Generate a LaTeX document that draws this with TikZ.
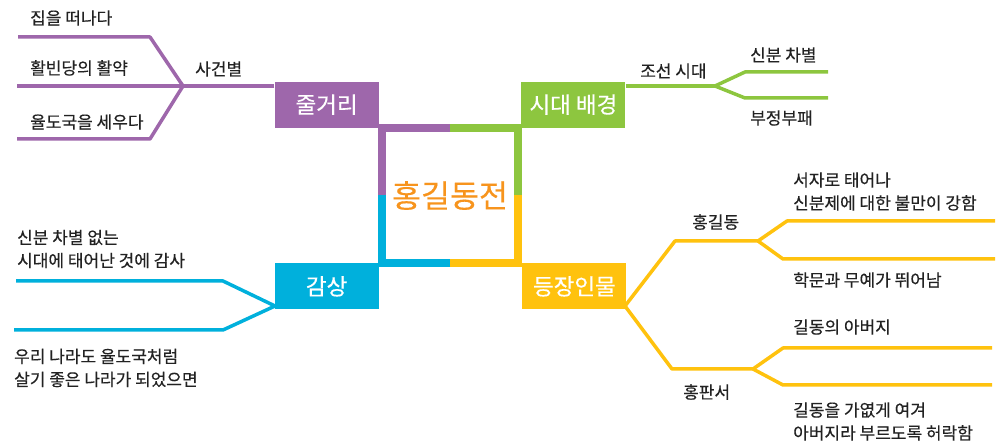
\documentclass[tikz,border=0pt]{standalone}
\usepackage{fontspec}
\setmainfont{Noto Sans CJK KR}[FakeBold=0.4]
\usetikzlibrary{calc}
\definecolor{plotPurple}{HTML}{9E67AB}
\definecolor{eraGreen}{HTML}{8DC63F}
\definecolor{feelBlue}{HTML}{00B0DC}
\definecolor{castYellow}{HTML}{FFC20E}
\definecolor{titleOrange}{HTML}{F7941D}
\definecolor{leafText}{HTML}{222222}

\begin{document}
\begin{tikzpicture}[x=1pt, y=-1pt,
  topic/.style={fill=#1, text=white, minimum width=104pt, minimum height=46pt, inner sep=0pt, font=\fontsize{22.5}{26}\selectfont},
  branch/.style={draw=#1, line width=3.5pt, line join=round},
  frame/.style={draw=#1, line width=8pt},
  leaf/.style={anchor=west, inner sep=0pt, align=left, text=leafText, font=\fontsize{17}{23}\selectfont}]
\useasboundingbox (0,0) rectangle (1004,443);
% title in the middle
\node[minimum width=136pt, minimum height=135pt, inner sep=0pt, text=titleOrange, font=\fontsize{31.5}{34}\selectfont] (title) at (450,195.5) {홍길동전};
\draw[frame=plotPurple] (title.west) |- (title.north);
\draw[frame=eraGreen] (title.north) -| (title.east);
\draw[frame=castYellow] (title.east) |- (title.south);
\draw[frame=feelBlue] (title.south) -| (title.west);
% four topics at the corners
\node[topic=plotPurple, anchor=south east, xshift=-3pt] (plot) at (title.north west) {줄거리};
\node[topic=eraGreen, anchor=south west, xshift=3pt] (era) at (title.north east) {시대 배경};
\node[topic=feelBlue, anchor=north east, xshift=-3pt] (feel) at (title.south west) {감상};
\node[topic=castYellow, anchor=north west, xshift=4pt] (cast) at (title.south east) {등장인물};

% 줄거리
\coordinate (plotJ) at (183,86);
\coordinate (plotA) at (18,37);
\coordinate (plotB) at (17,86);
\coordinate (plotC) at (17,139);
\draw[branch=plotPurple] (plot.west |- plotJ) -- (plotJ);
\draw[branch=plotPurple] (plotJ) -- ++(-33,-49) -- (plotA);
\draw[branch=plotPurple] (plotJ) -- (plotB);
\draw[branch=plotPurple] (plotJ) -- ++(-33,53) -- (plotC);
\node[leaf] (plotBy) at (195,69) {사건별};
\node[leaf] (plotA1) at (30,18) {집을 떠나다};
\node[leaf] (plotB1) at (30,68) {활빈당의 활약};
\node[leaf] (plotC1) at (30,122) {율도국을 세우다};

% 시대 배경
\coordinate (eraJ) at (715,86);
\coordinate (eraA) at (828,72);
\coordinate (eraB) at (828,98);
\draw[branch=eraGreen] (era.east |- eraJ) -- (eraJ);
\draw[branch=eraGreen] (eraJ) -- ++(30,-14) -- (eraA);
\draw[branch=eraGreen] (eraJ) -- ++(30,12) -- (eraB);
\node[leaf] (eraBy) at (640,71) {조선 시대};
\node[leaf] (eraA1) at (750,55) {신분 차별};
\node[leaf] (eraB1) at (750,118) {부정부패};

% 감상
\coordinate (feelJ) at (275,306);
\coordinate (feelA) at (16,281);
\coordinate (feelB) at (14,330);
\draw[branch=feelBlue] (feelJ) -- ++(-52,-25) -- (feelA);
\draw[branch=feelBlue] (feelJ) -- ++(-52,24) -- (feelB);
\node[leaf] (feelA1) at (17,249) {신분 차별 없는\\시대에 태어난 것에 감사};
\node[leaf] (feelB1) at (14,368) {우리 나라도 율도국처럼\\살기 좋은 나라가 되었으면};

% 등장인물
\coordinate (castJ) at (625,306);
\coordinate (heroJ) at (758,241);
\coordinate (fatherJ) at (753,369);
\coordinate (heroA) at (995,221);
\coordinate (heroB) at (995,259);
\coordinate (fatherA) at (992,348);
\coordinate (fatherB) at (992,385);
\draw[branch=castYellow] (castJ) -- ++(50,-65) -- (heroJ);
\draw[branch=castYellow] (castJ) -- ++(47,63) -- (fatherJ);
\draw[branch=castYellow] (heroJ) -- ++(29,-20) -- (heroA);
\draw[branch=castYellow] (heroJ) -- ++(25,18) -- (heroB);
\draw[branch=castYellow] (fatherJ) -- ++(30,-21) -- (fatherA);
\draw[branch=castYellow] (fatherJ) -- ++(30,16) -- (fatherB);
\node[leaf] (hero) at (692,222) {홍길동};
\node[leaf] (heroA1) at (793,191.5) {서자로 태어나\\신분제에 대한 불만이 강함};
\node[leaf] (heroB1) at (793,280) {학문과 무예가 뛰어남};
\node[leaf] (father) at (683,392) {홍판서};
\node[leaf] (fatherA1) at (793,327) {길동의 아버지};
\node[leaf] (fatherB1) at (793,421.5) {길동을 가엾게 여겨\\아버지라 부르도록 허락함};
\end{tikzpicture}
\end{document}
